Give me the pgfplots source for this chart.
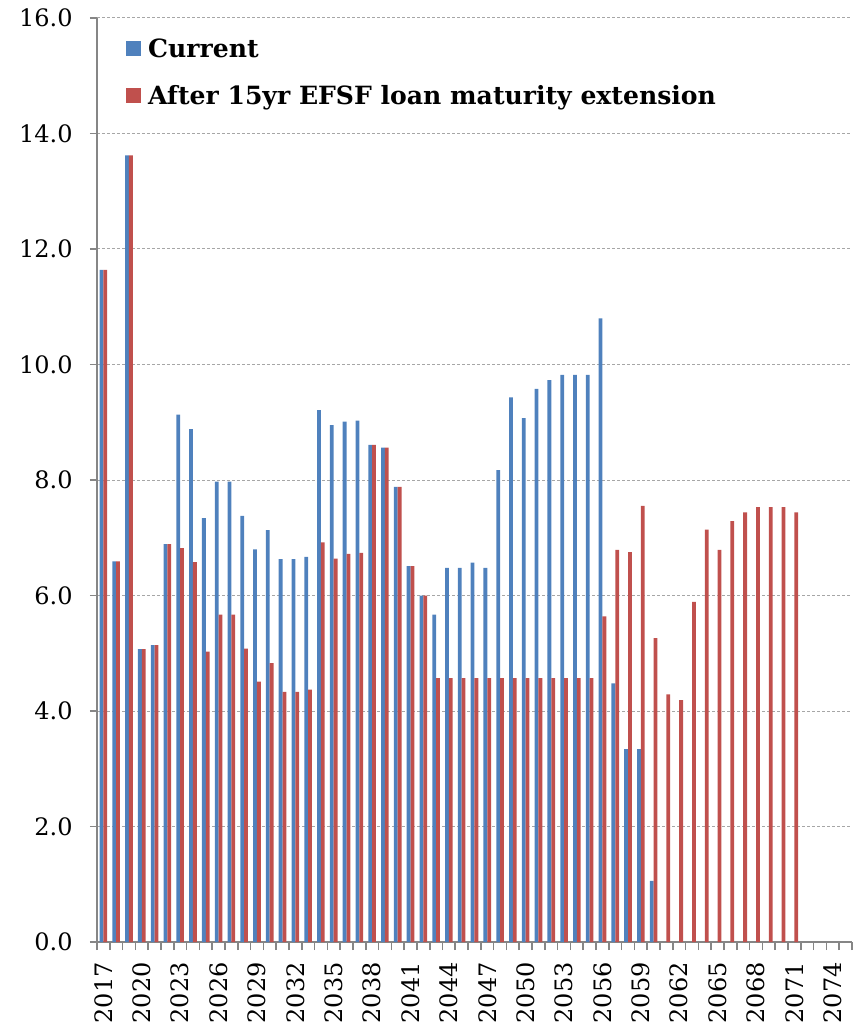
\documentclass[border=0pt]{standalone}
\usepackage{fontspec}
\setmainfont{DejaVu Serif}
\usepackage{pgfplots}
\pgfplotsset{compat=1.18}
\definecolor{cblue}{HTML}{4F81BD}
\definecolor{cred}{HTML}{C0504D}
\definecolor{axgray}{HTML}{868686}
\definecolor{gridgray}{HTML}{A6A6A6}
\begin{document}
\begin{tikzpicture}
\useasboundingbox (-48.5pt,-44pt) rectangle (380pt,471pt);
\begin{axis}[
  scale only axis, width=377.5pt, height=462pt,
  xmin=-0.5, xmax=58.5, ymin=0, ymax=16,
  axis lines=left,
  axis line style={-, axgray, line width=0.85pt},
  ybar=0pt, bar width=1.9pt,
  ytick={0,2,...,16},
  ymajorgrids,
  major grid style={gridgray, line width=0.5pt, dash pattern=on 1.5pt off 1pt},
  xtick={0,3,...,57},
  xticklabels={2017,2020,2023,2026,2029,2032,2035,2038,2041,2044,2047,2050,2053,2056,2059,2062,2065,2068,2071,2074},
  minor xtick={-0.5,0.5,...,58.5},
  tick align=outside,
  major tick length=3.5pt,
  minor tick length=4pt,
  major x tick style={draw=none},
  minor x tick style={axgray, line width=0.8pt},
  ytick style={axgray, line width=0.8pt},
  xticklabel style={rotate=90, anchor=east, inner sep=0pt, xshift=-6.5pt, font=\fontsize{12pt}{14pt}\selectfont},
  yticklabel style={inner sep=0pt, xshift=-8.5pt, font=\fontsize{12pt}{14pt}\selectfont},
  /pgf/number format/.cd, fixed, fixed zerofill, precision=1, assume math mode=true,
  /pgfplots/.cd,
  legend style={at={(axis description cs:0.0384,0.9854)}, anchor=north west,
    draw=none, fill=none, inner sep=0pt, row sep=9pt,
    font=\bfseries\fontsize{12.55pt}{14pt}\selectfont,
    nodes={inner sep=0pt}},
  legend cell align=left,
  legend image code/.code={\path[draw=none,fill=none] (0pt,-3pt) rectangle (10.9pt,9pt); \fill[#1,draw=none] (0pt,-2.9pt) rectangle (7.3pt,4.4pt);},
]
\addplot[fill=cblue, draw=none] coordinates {
(0,11.64) (1,6.59) (2,13.62) (3,5.07) (4,5.14) (5,6.89) (6,9.13) (7,8.88) (8,7.34) (9,7.97)
(10,7.97) (11,7.38) (12,6.80) (13,7.13) (14,6.63) (15,6.63) (16,6.67) (17,9.21) (18,8.95) (19,9.01)
(20,9.03) (21,8.61) (22,8.56) (23,7.88) (24,6.51) (25,6.00) (26,5.67) (27,6.48) (28,6.48) (29,6.57)
(30,6.48) (31,8.17) (32,9.43) (33,9.07) (34,9.58) (35,9.73) (36,9.82) (37,9.82) (38,9.82) (39,10.80)
(40,4.48) (41,3.34) (42,3.34) (43,1.06)
};
\addlegendentry{Current}
\addplot[fill=cred, draw=none] coordinates {
(0,11.64) (1,6.59) (2,13.62) (3,5.07) (4,5.14) (5,6.89) (6,6.82) (7,6.58) (8,5.03) (9,5.67)
(10,5.67) (11,5.08) (12,4.51) (13,4.83) (14,4.33) (15,4.33) (16,4.37) (17,6.92) (18,6.64) (19,6.72)
(20,6.74) (21,8.61) (22,8.56) (23,7.88) (24,6.51) (25,6.00) (26,4.57) (27,4.57) (28,4.57) (29,4.57)
(30,4.57) (31,4.57) (32,4.57) (33,4.57) (34,4.57) (35,4.57) (36,4.57) (37,4.57) (38,4.57) (39,5.64)
(40,6.79) (41,6.75) (42,7.55) (43,5.26) (44,4.29) (45,4.19) (46,5.89) (47,7.14) (48,6.79) (49,7.29)
(50,7.44) (51,7.53) (52,7.53) (53,7.53) (54,7.44)
};
\addlegendentry{After 15yr EFSF loan maturity extension}
\end{axis}
\end{tikzpicture}
\end{document}
